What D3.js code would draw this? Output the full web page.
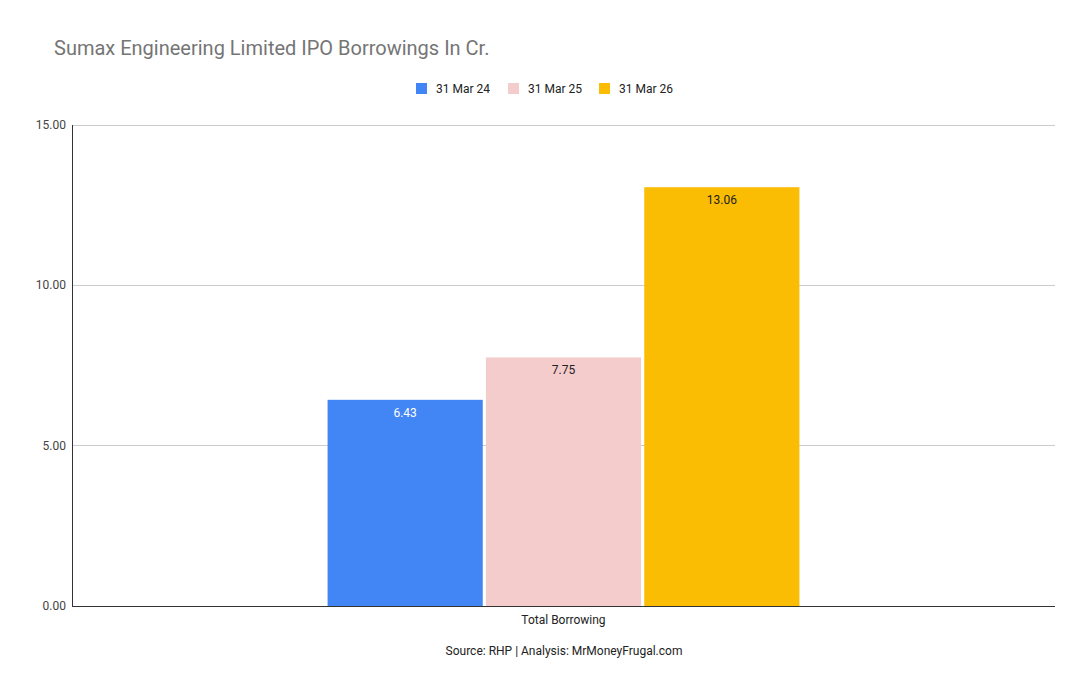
<!DOCTYPE html>
<html><head><meta charset="utf-8">
<script src="https://cdn.jsdelivr.net/npm/d3@7"></script>
<style>body{margin:0;background:#fff}text{font-family:Roboto,Arial,sans-serif}</style>
</head><body><svg id="c" width="1090" height="694"></svg>
<script>
const categories = ["Total Borrowing"];
const series = ["31 Mar 24","31 Mar 25","31 Mar 26"];
const values = [6.43, 7.75, 13.06];
const colors = ["#4285f4","#f4cccc","#fbbc04"];
const labelColors = ["#ffffff","#222222","#222222"];
const yTicks = [0,5,10,15];

const svg = d3.select("#c");
const L=72,R=1055,T=125,B=606;
const y = d3.scaleLinear().domain([0,15]).range([B,T]);
const x0 = d3.scaleBand().domain(categories).range([L,R]);
const groupW = x0.bandwidth()*0.48;
const cx = x0(categories[0])+x0.bandwidth()/2;
const x1 = d3.scaleBand().domain(series).range([cx-groupW/2, cx+groupW/2]).paddingInner(0.02);

svg.append("text").attr("x",54).attr("y",55).attr("font-size",20).attr("fill","#757575").text("Sumax Engineering Limited IPO Borrowings In Cr.");

// grid
svg.selectAll(".g").data(yTicks).enter().append("line")
  .attr("x1",L).attr("x2",R).attr("y1",d=>y(d)).attr("y2",d=>y(d))
  .attr("stroke",d=>d===0?"#333":"#cccccc").attr("stroke-width",1).attr("shape-rendering","crispEdges");
svg.selectAll(".yt").data(yTicks).enter().append("text")
  .attr("x",L-6).attr("y",d=>y(d)+4).attr("text-anchor","end").attr("font-size",12).attr("fill","#444")
  .text(d=>d3.format(".2f")(d));
svg.append("line").attr("x1",L).attr("x2",L).attr("y1",T).attr("y2",B).attr("stroke","#333").attr("shape-rendering","crispEdges");

// bars
svg.selectAll(".b").data(values).enter().append("rect")
  .attr("x",(d,i)=>x1(series[i])).attr("width",x1.bandwidth())
  .attr("y",d=>y(d)).attr("height",d=>B-y(d)).attr("fill",(d,i)=>colors[i]);
svg.selectAll(".bl").data(values).enter().append("text")
  .attr("x",(d,i)=>x1(series[i])+x1.bandwidth()/2).attr("y",d=>y(d)+17)
  .attr("text-anchor","middle").attr("font-size",12).attr("fill",(d,i)=>labelColors[i])
  .text(d=>d3.format(".2f")(d));

svg.append("text").attr("x",cx).attr("y",624).attr("text-anchor","middle").attr("font-size",12).attr("fill","#222").text(categories[0]);
svg.append("text").attr("x",564).attr("y",655).attr("text-anchor","middle").attr("font-size",12).attr("fill","#222").text("Source: RHP | Analysis: MrMoneyFrugal.com");

// legend
const lx=[416,508,599];
series.forEach((s,i)=>{
  svg.append("rect").attr("x",lx[i]).attr("y",83).attr("width",11).attr("height",11).attr("fill",colors[i]);
  svg.append("text").attr("x",lx[i]+20).attr("y",93).attr("font-size",12).attr("fill","#222").text(s);
});
</script></body></html>
